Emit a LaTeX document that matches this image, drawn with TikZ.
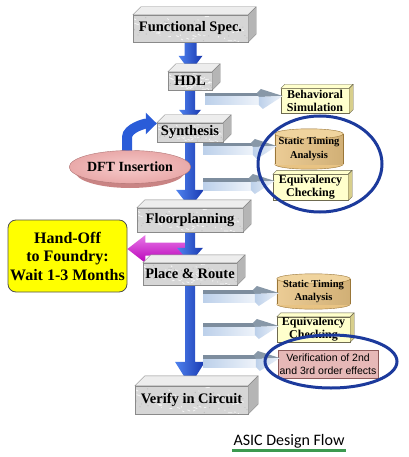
\documentclass[tikz,border=0pt]{standalone}
\usepackage{fontspec}
\setmainfont{Liberation Serif}
\newfontfamily\sansf{Liberation Sans}
\newfontfamily\calib{Carlito}
\usetikzlibrary{calc,arrows.meta,shapes.geometric}
\pgfdeclarelayer{bg}
\pgfsetlayers{bg,main}
\definecolor{boxfront}{HTML}{D6D6D6}
\definecolor{boxtop}{HTML}{EDEDED}
\definecolor{boxside}{HTML}{B5B5B5}
\definecolor{boxline}{HTML}{8A8A8A}
\definecolor{yfront}{HTML}{FFFFCC}
\definecolor{yside}{HTML}{D8CF8C}
\definecolor{yline}{HTML}{6E6A50}
\definecolor{cylfill}{HTML}{E8C383}
\definecolor{cyltop}{HTML}{F0D49E}
\definecolor{cylline}{HTML}{9A7638}
\definecolor{vfill}{HTML}{E6B8B7}
\definecolor{vline}{HTML}{8C5A5A}
\definecolor{eblue}{HTML}{1C3A9C}
\definecolor{bluL}{HTML}{4F82EE}
\definecolor{bluM}{HTML}{2A5CD8}
\definecolor{bluD}{HTML}{1838B0}
\definecolor{gdark}{HTML}{7D8D9E}
\definecolor{gdark2}{HTML}{8898A8}
\definecolor{glA}{HTML}{BCD0EA}
\definecolor{glB}{HTML}{EEF3FA}
\definecolor{magL}{HTML}{E878E8}
\definecolor{magD}{HTML}{B800B8}
\definecolor{handy}{HTML}{FFFF00}
\definecolor{hline}{HTML}{505050}
\definecolor{dftfill}{HTML}{E9A9A9}
\definecolor{dftL}{HTML}{F6CACA}
\definecolor{dftrim}{HTML}{C98484}
\definecolor{dftline}{HTML}{B07575}
\definecolor{titlegreen}{HTML}{3C9A50}

\newcommand\facesthree[5]{%
  \path[draw=#5, fill=#3, line join=round] (#1.north west) -- ++(#2,-#2) -- ($(#1.north east)+(#2,-#2)$) -- (#1.north east) -- cycle;
  \path[draw=#5, fill=#4, line join=round] (#1.north east) -- ++(#2,-#2) -- ($(#1.south east)+(#2,-#2)$) -- (#1.south east) -- cycle;
}
\newcommand\cylbody[2]{%
  \path[draw=cylline, fill=cylfill] let \p1=($(#1.east)-(#1.west)$) in ($(#1.south)+(0,-#2)$) ellipse [x radius=0.5*\x1, y radius=#2pt];
  \path[left color=cylfill!85!white, right color=cylfill!90!black] ($(#1.north west)+(0,#2)$) rectangle ($(#1.south east)+(0,-#2)$);
  \draw[cylline] ($(#1.north west)+(0,#2)$) -- ($(#1.south west)+(0,-#2)$) ($(#1.north east)+(0,#2)$) -- ($(#1.south east)+(0,-#2)$);
  \path[draw=cylline, fill=cyltop] let \p1=($(#1.east)-(#1.west)$) in ($(#1.north)+(0,#2)$) ellipse [x radius=0.5*\x1, y radius=#2pt];
}
\newcommand\grayarr[2]{%
  \path[fill=gdark] let \p1=(#1), \p2=(#1 -| #2.west) in (\x1,\y1) -- (\x2-22pt,\y1) -- (\x2-22pt,\y1-4pt) -- (\x1,\y1-4pt) -- cycle;
  \path[left color=glA, right color=glB] let \p1=(#1), \p2=(#1 -| #2.west) in (\x1,\y1-4pt) rectangle (\x2-22pt,\y1-12pt);
  \path[fill=gdark2] let \p1=(#1), \p2=(#1 -| #2.west) in (\x2-24pt,\y1) -- (\x2-20pt,\y1+4pt) -- (\x2+2pt,\y1-3pt) -- (\x2-22pt,\y1-4pt) -- cycle;
  \path[left color=glA, right color=glB] let \p1=(#1), \p2=(#1 -| #2.west) in (\x2-22pt,\y1-4pt) -- (\x2+2pt,\y1-3pt) -- (\x2-18pt,\y1-16pt) -- (\x2-22pt,\y1-12pt) -- cycle;
}
\newcommand\bluearr[5]{%
  \path[left color=bluL, right color=bluD] let \p1=(#1), \p2=(#2) in
    (\x1-#3pt,\y1) -- (\x1+#3pt,\y1) -- (\x1+#3pt,\y2+#5pt) -- (\x1+#4pt,\y2+#5pt) -- (\x1,\y2)
    -- (\x1-#4pt,\y2+#5pt) -- (\x1-#3pt,\y2+#5pt) -- cycle;
}
\newcommand\marble{%
  \pgfmathsetseed{11}%
  \foreach \k in {1,...,45}{%
    \draw[white, line width=0.8pt, opacity=0.75, line cap=round]
      ($(path picture bounding box.south west)!{rnd}!(path picture bounding box.south east)
        + (path picture bounding box.south west)!{rnd}!(path picture bounding box.north west)
        - (path picture bounding box.south west)$) -- ++({rnd*8-4},{rnd*3-1.5});
  }%
  \foreach \k in {1,...,30}{%
    \fill[gray!70, opacity=0.5]
      ($(path picture bounding box.south west)!{rnd}!(path picture bounding box.south east)
        + (path picture bounding box.south west)!{rnd}!(path picture bounding box.north west)
        - (path picture bounding box.south west)$) circle (0.6);
  }%
}

\tikzset{
  gbox/.style={draw=boxline, fill=boxfront, inner sep=0pt, text=black, path picture={\marble},
    font=\bfseries\fontsize{14.5}{16}\selectfont},
  ybox/.style={draw=yline, fill=yfront, inner sep=0.5pt, align=center, text=black,
    font=\bfseries\fontsize{12}{13}\selectfont},
  cylnode/.style={inner sep=0pt, align=center, text=black,
    font=\bfseries\fontsize{10.5}{13.5}\selectfont},
  ring/.style={ellipse, draw=eblue, line width=3pt, inner sep=0pt},
}

\begin{document}
\begin{tikzpicture}[x=1pt,y=-1pt]
\begin{pgfonlayer}{bg}
\fill[white] (0,0) rectangle (408,457);
\end{pgfonlayer}
\useasboundingbox (0,0) rectangle (408,457);

% main flow boxes
\node[gbox, minimum width=115pt, minimum height=27pt] (fs) at (190.5,28.5) {Functional Spec.};
\node[gbox, minimum width=44pt, minimum height=18pt] (hdl) at (190,81) {HDL};
\node[gbox, minimum width=66pt, minimum height=19pt] (syn) at (190,132.5) {Synthesis};
\node[gbox, minimum width=106pt, minimum height=24pt] (flp) at (190,220) {Floorplanning};
\node[gbox, minimum width=94pt, minimum height=22pt] (pr) at (190,274) {Place \& Route};
\node[gbox, minimum width=113pt, minimum height=28pt] (vic) at (191.5,400) {Verify in Circuit};
\facesthree{fs}{8}{boxtop}{boxside}{boxline}
\facesthree{hdl}{8}{boxtop}{boxside}{boxline}
\facesthree{syn}{8}{boxtop}{boxside}{boxline}
\facesthree{flp}{8}{boxtop}{boxside}{boxline}
\facesthree{pr}{8}{boxtop}{boxside}{boxline}
\facesthree{vic}{10}{boxtop}{boxside}{boxline}

% side boxes
\node[ybox, minimum width=68pt, minimum height=25pt] (beh) at (315,101) {Behavioral\\Simulation};
\node[ybox, minimum width=75pt, minimum height=26pt] (ec1) at (310.5,187.5) {Equivalency\\Checking};
\node[ybox, minimum width=73pt, minimum height=25pt] (ec2) at (313.5,329.5) {Equivalency\\Checking};
\facesthree{beh}{4}{yfront}{yside}{yline}
\facesthree{ec1}{4}{yfront}{yside}{yline}
\facesthree{ec2}{4}{yfront}{yside}{yline}

\node[cylnode, minimum width=68pt, minimum height=40pt] (sta1) at (309,149) {Static Timing\\Analysis};
\node[cylnode, minimum width=73pt, minimum height=35pt] (sta2) at (313.5,291.5) {Static Timing\\Analysis};

\node[draw=vline, fill=vfill, minimum width=100pt, minimum height=28pt, inner sep=1pt, align=center,
  font=\sansf\fontsize{10.5}{12.5}\selectfont] (ver) at (328,364) {Verification of 2nd\\and 3rd order effects};

% DFT insertion disk
\fill[dftrim] (130,171.5) ellipse [x radius=55, y radius=16.5];
\node[ellipse, draw=dftline, inner color=dftL, outer color=dftfill, minimum width=110pt, minimum height=33pt,
  inner sep=0pt, font=\bfseries\fontsize{14}{16}\selectfont] (dft) at (130,167) {\raisebox{-4pt}{DFT Insertion}};

% hand-off box
\node[draw=hline, fill=handy, line width=0.8pt, rounded corners=8pt, minimum width=119pt, minimum height=72pt,
  inner sep=1pt, align=center, font=\bfseries\fontsize{16}{18.5}\selectfont] (hand) at (67.5,256) {Hand-Off\\to Foundry:\\Wait 1-3 Months};

% background-layer arrows
\begin{pgfonlayer}{bg}
\cylbody{sta1}{5}
\cylbody{sta2}{5}
\coordinate (mstart) at (193,249);
\path[top color=magL, bottom color=magD] let \p1=(mstart), \p2=(mstart -| hand.east) in
  (\x1,\y1+6.5pt) -- (\x2+18pt,\y1+6.5pt) -- (\x2+18pt,\y1+14pt) -- (\x2,\y1)
  -- (\x2+18pt,\y1-14pt) -- (\x2+18pt,\y1-6.5pt) -- (\x1,\y1-6.5pt) -- cycle;
\bluearr{fs.south}{hdl.north}{6}{12}{16}
\bluearr{hdl.south}{syn.north}{5}{11}{13}
\bluearr{syn.south}{flp.north}{5}{14}{18}
\bluearr{flp.south}{pr.north}{5}{13}{15}
\bluearr{pr.south}{vic.north}{5}{15}{24}
\draw[line width=10pt, bluM, -{Triangle[length=11pt,width=21pt]}]
  ($(dft.north)+(-3,3)$) -- ++(0,-16) .. controls +(0,-9) and +(-12,0) .. ($(syn.west)+(0,-9)$);
\end{pgfonlayer}

% gray verification arrows
\coordinate (g1) at (205,93);
\coordinate (g2) at (203,143);
\coordinate (g3) at (203,178);
\coordinate (g4) at (203,290);
\coordinate (g5) at (203,323);
\coordinate (g6) at (203,355);
\grayarr{g1}{beh}
\grayarr{g2}{sta1}
\grayarr{g3}{ec1}
\grayarr{g4}{sta2}
\grayarr{g5}{ec2}
\grayarr{g6}{ver}

% highlight rings
\node[ring, minimum width=124pt, minimum height=96pt] (ring1) at (320,164) {};
\node[ring, minimum width=132pt, minimum height=53pt] (ring2) at (331,361.5) {};

% caption
\node[anchor=base, inner sep=0pt, font=\calib\fontsize{16}{18}\selectfont] (title) at (289,445) {ASIC Design Flow};
\draw[titlegreen, line width=3pt] ($(title.base west)+(-1,5)$) -- ($(title.base east)+(1,5)$);
\end{tikzpicture}
\end{document}
